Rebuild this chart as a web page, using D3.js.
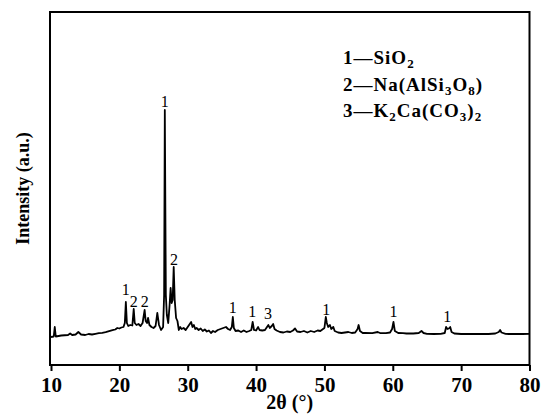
<!DOCTYPE html>
<html>
<head>
<meta charset="utf-8">
<script src="https://cdn.jsdelivr.net/npm/d3@7"></script>
<style>
  body { margin: 0; background: #fff; }
  svg { display: block; }
  text { font-family: "Liberation Serif", "DejaVu Serif", serif; }
</style>
</head>
<body>
<svg id="chart" width="541" height="419"></svg>
<script>
// XRD pattern, 2theta (deg) and intensity (a.u.)
const twoTheta = [
  10.0, 10.4, 10.55, 10.7, 11.5, 12.5, 12.8, 13.1, 13.6, 14.0, 14.4, 15.0, 15.5, 16.0, 16.5,
  17.0, 17.5, 18.0, 18.5, 19.0, 19.4, 19.7, 20.0, 20.3, 20.6, 20.8, 20.95, 21.1, 21.3, 21.6,
  21.9, 22.1, 22.25, 22.5, 22.8, 23.1, 23.4, 23.7, 23.85, 24.05, 24.2, 24.4, 24.7, 25.0, 25.3,
  25.55, 25.8, 26.1, 26.4, 26.55, 26.65, 26.8, 26.95, 27.15, 27.35, 27.5, 27.65, 27.8, 27.95, 28.1,
  28.3, 28.5, 28.7, 28.9, 29.1, 29.4, 29.7, 30.0, 30.3, 30.5, 30.7, 30.9, 31.1, 31.3, 31.6,
  31.9, 32.2, 32.5, 32.8, 33.1, 33.4, 33.7, 34.0, 34.4, 34.8, 35.2, 35.6, 35.9, 36.2, 36.45,
  36.6, 36.75, 37.0, 37.4, 37.8, 38.2, 38.6, 39.0, 39.3, 39.5, 39.7, 40.0, 40.3, 40.5, 40.9,
  41.3, 41.6, 41.8, 42.0, 42.3, 42.5, 42.7, 43.0, 43.5, 44.0, 44.5, 45.0, 45.4, 45.7, 46.0,
  46.5, 47.0, 47.5, 48.0, 48.5, 49.0, 49.4, 49.7, 50.0, 50.2, 50.35, 50.55, 50.8, 51.0, 51.3,
  51.5, 52.0, 52.5, 53.0, 53.5, 54.0, 54.5, 54.85, 55.0, 55.2, 55.6, 56.0, 57.0, 57.8, 58.2,
  59.0, 59.6, 59.9, 60.1, 60.3, 60.8, 61.5, 62.0, 63.0, 63.8, 64.2, 64.5, 65.0, 66.0, 67.0,
  67.6, 67.8, 68.0, 68.2, 68.4, 68.6, 69.0, 70.0, 71.0, 72.0, 73.0, 74.0, 75.0, 75.5, 75.7,
  75.9, 76.5, 77.0, 78.0, 79.0, 80.0
];
const intensity = [
  280, 285, 380, 285, 295, 300, 315, 300, 305, 330, 305, 300, 310, 305, 312,
  318, 322, 328, 338, 348, 355, 370, 365, 375, 380, 420, 630, 420, 390, 400,
  395, 560, 420, 400, 410, 390, 420, 550, 440, 420, 470, 400, 380, 370, 390,
  520, 400, 350, 380, 700, 2550, 700, 500, 420, 600, 770, 620, 650, 980, 650,
  470, 440, 350, 380, 360, 370, 350, 380, 410, 430, 380, 400, 360, 370, 350,
  365, 340, 355, 335, 345, 320, 340, 330, 350, 360, 370, 380, 360, 350, 380,
  480, 370, 340, 345, 330, 345, 330, 340, 350, 430, 350, 345, 380, 350, 345,
  350, 380, 400, 370, 390, 410, 360, 345, 330, 325, 335, 330, 345, 365, 335,
  330, 340, 325, 340, 330, 345, 340, 355, 370, 480, 420, 380, 400, 360, 380,
  340, 325, 320, 325, 330, 320, 325, 360, 400, 340, 320, 320, 318, 330, 318,
  318, 325, 360, 430, 340, 320, 318, 315, 315, 320, 340, 320, 312, 310, 312,
  320, 380, 360, 365, 380, 330, 315, 310, 312, 310, 312, 310, 315, 330, 350,
  325, 312, 310, 312, 310, 312
];

// peak markers: phase number, 2theta, height of label baseline
const peakLabels = ["1", "2", "2", "1", "2", "1", "1", "3", "1", "1", "1"];
const peakTheta = [20.95, 22.1, 23.7, 26.65, 28.0, 36.6, 39.45, 41.75, 50.25, 60.1, 67.95];
const peakLabelY = [700, 580, 580, 2580, 1000, 520, 480, 460, 500, 480, 430];

// legend rows: [text, isSubscript]
const legendNum = ["1", "2", "3"];
const legendPhase = [
  [["Si", 0], ["O", 0], ["2", 1]],
  [["Na(AlSi", 0], ["3", 1], ["O", 0], ["8", 1], [")", 0]],
  [["K", 0], ["2", 1], ["Ca(CO", 0], ["3", 1], [")", 0], ["2", 1]]
];

const xTicks = [10, 20, 30, 40, 50, 60, 70, 80];

const serif = "'Liberation Serif', 'Times New Roman', serif";
const svg = d3.select("#chart");
const mLeft = 50, mRight = 529.5, mTop = 12, mBottom = 365;

const x = d3.scaleLinear().domain([10, 80]).range([mLeft + 1, mRight]);
const y = d3.scaleLinear().domain([0, 3530]).range([mBottom, mTop]);

const data = twoTheta.map(function (t, i) { return [t, intensity[i]]; });

// pattern
svg.append("path")
  .datum(data)
  .attr("fill", "none")
  .attr("stroke", "#000")
  .attr("stroke-width", 1.8)
  .attr("stroke-linejoin", "round")
  .attr("d", d3.line().x(function (d) { return x(d[0]); }).y(function (d) { return y(d[1]); }));

// frame
svg.append("rect")
  .attr("x", mLeft).attr("y", mTop)
  .attr("width", mRight - mLeft).attr("height", mBottom - mTop)
  .attr("fill", "none").attr("stroke", "#000").attr("stroke-width", 2);

// x axis
const xAxis = svg.append("g")
  .attr("transform", "translate(0," + mBottom + ")")
  .attr("font-family", serif)
  .call(d3.axisBottom(x).tickValues(xTicks).tickSize(6).tickPadding(6).tickFormat(d3.format("d")));
xAxis.select(".domain").remove();
xAxis.selectAll("line").attr("stroke-width", 2);
xAxis.selectAll("text")
  .attr("font-size", 21).attr("font-weight", "bold")
  .style("font-family", serif).attr("fill", "#000");

svg.append("text")
  .attr("x", (mLeft + mRight) / 2).attr("y", 409)
  .attr("text-anchor", "middle")
  .style("font-family", serif)
  .attr("font-size", 20).attr("font-weight", "bold")
  .text("2θ (°)");

svg.append("text")
  .attr("transform", "translate(29," + ((mTop + mBottom) / 2) + ") rotate(-90)")
  .attr("text-anchor", "middle")
  .style("font-family", serif)
  .attr("font-size", 18).attr("font-weight", "bold")
  .text("Intensity (a.u.)");

// peak labels
svg.selectAll(".peak")
  .data(peakLabels)
  .enter()
  .append("text")
  .attr("class", "peak")
  .attr("x", function (d, i) { return x(peakTheta[i]); })
  .attr("y", function (d, i) { return y(peakLabelY[i]); })
  .attr("text-anchor", "middle")
  .style("font-family", serif)
  .attr("font-size", 16)
  .text(function (d) { return d; });

// legend
legendNum.forEach(function (n, i) {
  const t = svg.append("text")
    .attr("x", 343).attr("y", 64 + i * 26.5)
    .style("font-family", serif)
    .style("letter-spacing", "1px")
    .attr("font-size", 19).attr("font-weight", "bold");
  t.append("tspan").text(n + "\u2014");
  let prevSub = false;
  legendPhase[i].forEach(function (p) {
    const isSub = p[1] === 1;
    const s = t.append("tspan").text(p[0]);
    if (isSub) s.attr("font-size", 13);
    s.attr("dy", isSub && !prevSub ? 4 : (!isSub && prevSub ? -4 : 0));
    prevSub = isSub;
  });
});
</script>
</body>
</html>
